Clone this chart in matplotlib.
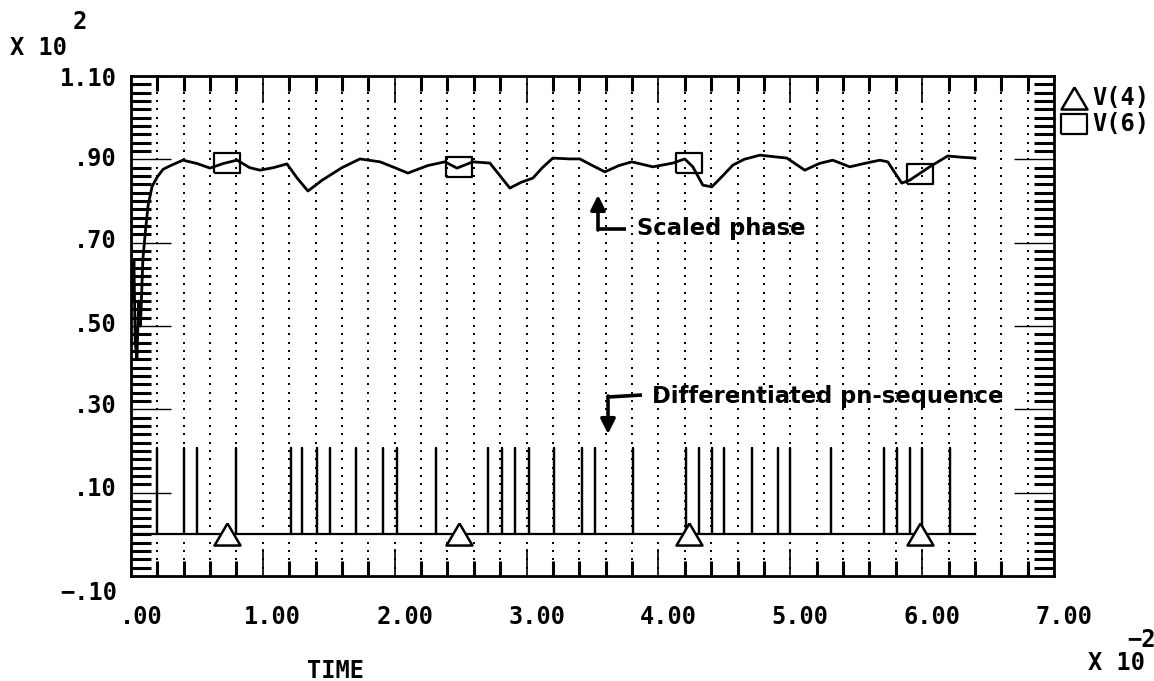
import numpy as np
import matplotlib
matplotlib.use("Agg")
import matplotlib.pyplot as plt
from matplotlib.lines import Line2D
from matplotlib.path import Path
from matplotlib.transforms import ScaledTranslation

# ---- data (time in units of 1e-2 s, voltages in units of 1e2) ----
# V(6): scaled phase
phase_t = [0.000, 0.012, 0.022, 0.032, 0.045, 0.058, 0.072, 0.090, 0.110, 0.130,
           0.160, 0.200, 0.243, 0.300, 0.394, 0.500, 0.599, 0.700, 0.804, 0.900,
           0.978, 1.080, 1.183, 1.260, 1.342, 1.450, 1.600, 1.736, 1.888, 2.000,
           2.100, 2.250, 2.381, 2.472, 2.593, 2.722, 2.800, 2.873, 2.960, 3.048,
           3.120, 3.199, 3.328, 3.404, 3.500, 3.594, 3.700, 3.798, 3.958, 4.109,
           4.200, 4.261, 4.337, 4.405, 4.480, 4.564, 4.650, 4.769, 4.974, 5.110,
           5.220, 5.322, 5.451, 5.560, 5.679, 5.739, 5.845, 5.906, 6.000, 6.057,
           6.194, 6.300, 6.400]
phase_v = [0.690, 0.560, 0.660, 0.460, 0.420, 0.560, 0.500, 0.660, 0.730, 0.790,
           0.835, 0.858, 0.876, 0.885, 0.898, 0.890, 0.879, 0.890, 0.898, 0.880,
           0.874, 0.880, 0.889, 0.855, 0.824, 0.850, 0.880, 0.901, 0.894, 0.880,
           0.867, 0.885, 0.894, 0.879, 0.894, 0.891, 0.860, 0.831, 0.845, 0.855,
           0.880, 0.903, 0.901, 0.901, 0.885, 0.870, 0.885, 0.894, 0.882, 0.891,
           0.901, 0.882, 0.838, 0.834, 0.858, 0.886, 0.900, 0.910, 0.903, 0.874,
           0.890, 0.898, 0.882, 0.890, 0.898, 0.894, 0.843, 0.850, 0.870, 0.882,
           0.908, 0.905, 0.903]

# V(4): differentiated pn-sequence (pulse instants and pulse height)
pulse_times = [0.20, 0.40, 0.50, 0.80, 1.21, 1.30, 1.41, 1.51, 1.71, 1.91, 2.02,
               2.31, 2.71, 2.81, 2.91, 3.02, 3.21, 3.42, 3.52, 3.81, 4.21, 4.31,
               4.41, 4.50, 4.71, 4.91, 5.00, 5.31, 5.71, 5.81, 5.91, 6.00, 6.21]
pulse_height = 0.207
sim_end = 6.40

# symbol positions along the traces
marker_times = [0.73, 2.49, 4.23, 5.98]

x_ticks = [0, 1, 2, 3, 4, 5, 6, 7]
x_labels = [".00", "1.00", "2.00", "3.00", "4.00", "5.00", "6.00", "7.00"]
y_ticks = [-0.10, 0.10, 0.30, 0.50, 0.70, 0.90, 1.10]
y_labels = ["\u2212.10", ".10", ".30", ".50", ".70", ".90", "1.10"]

# ---- figure ----
W, H = 1154, 681
fig = plt.figure(figsize=(W / 100, H / 100), dpi=100)
fig.patch.set_facecolor("white")


def fx(px):
    return px / W


def fy(py):
    return 1 - py / H


ax = fig.add_axes([fx(131), fy(576), (1054 - 131) / W, (576 - 76) / H])
ax.set_xlim(0, 7)
ax.set_ylim(-0.10, 1.10)

mono = dict(family="DejaVu Sans Mono", weight="bold", size=17)

# dotted grid: dots at each minor x position / minor y step
gx = np.arange(1, 35) * 0.2
gy = -0.10 + np.arange(1, 60) * 0.02
GX, GY = np.meshgrid(gx, gy)
ax.scatter(GX.ravel(), GY.ravel(), s=2.8, marker="s", color="black",
           linewidths=0, zorder=1)

# ticks
ax.set_xticks(x_ticks)
ax.set_xticklabels(x_labels, fontdict=mono)
ax.set_xticks(np.arange(0, 36) * 0.2, minor=True)
ax.set_yticks(y_ticks)
ax.set_yticklabels(y_labels, fontdict=mono)
ax.set_yticks(-0.10 + np.arange(0, 61) * 0.02, minor=True)

ax.tick_params(axis="x", which="major", direction="in", length=19.5, width=1.2,
               top=True, bottom=True, pad=21)
ax.tick_params(axis="x", which="minor", direction="in", length=11, width=2.2,
               top=True, bottom=True)
ax.tick_params(axis="y", which="major", direction="in", length=29, width=1.0,
               left=True, right=True, pad=10)
ax.tick_params(axis="y", which="minor", direction="in", length=14.5, width=2.2,
               left=True, right=True)

# character-cell placement of the tick labels
xshift = ScaledTranslation(10 / 100, 0, fig.dpi_scale_trans)
for lab in ax.get_xticklabels():
    lab.set_transform(lab.get_transform() + xshift)
y_offsets_px = [-14, 6, 6, 4, 4, 3, 0]
for lab, dy in zip(ax.get_yticklabels(), y_offsets_px):
    lab.set_transform(lab.get_transform()
                      + ScaledTranslation(0, dy / 100, fig.dpi_scale_trans))

for sp in ax.spines.values():
    sp.set_linewidth(2.0)

# V(6) trace
ax.plot(phase_t, phase_v, color="black", lw=2.0, zorder=3)

# V(4) trace: flat line with narrow pulses
seq_t = [0.0]
seq_v = [0.0]
for p in pulse_times:
    seq_t += [p, p, p]
    seq_v += [0.0, pulse_height, 0.0]
seq_t.append(sim_end)
seq_v.append(0.0)
ax.plot(seq_t, seq_v, color="black", lw=1.6, zorder=3)

# trace symbols
tri = Path([(0, 0.85), (-1, -0.85), (1, -0.85), (0, 0.85)])
rect = Path([(-1.3, -1), (1.3, -1), (1.3, 1), (-1.3, 1), (-1.3, -1)])
mt = np.array(marker_times)
ax.plot(mt, np.zeros_like(mt), ls="none", marker=tri, ms=18.7, mfc="white",
        mec="black", mew=1.8, zorder=4)
ax.plot(mt, np.interp(mt, phase_t, phase_v), ls="none", marker=rect, ms=18.7,
        mfc="none", mec="black", mew=1.6, zorder=4)

# legend at the right of the frame
fig.add_artist(Line2D([fx(1074)], [fy(98)], ls="none", marker=tri, ms=18.7,
                      mfc="none", mec="black", mew=1.8))
fig.add_artist(Line2D([fx(1074)], [fy(124)], ls="none", marker=rect, ms=18.7,
                      mfc="none", mec="black", mew=1.6))
fig.text(fx(1092), fy(98), "V(4)", va="center", ha="left", **mono)
fig.text(fx(1092), fy(124), "V(6)", va="center", ha="left", **mono)

# scale factors
fig.text(fx(10), fy(48), "X 10", va="center", ha="left", **mono)
fig.text(fx(80), fy(22), "2", va="center", ha="center", **mono)
fig.text(fx(1127), fy(640), "\u22122", va="center", ha="left", **mono)
fig.text(fx(1088), fy(663), "X 10", va="center", ha="left", **mono)
fig.text(fx(336), fy(671), "TIME", va="center", ha="center", **mono)

# annotations
note = dict(family="DejaVu Sans", weight="bold", size=16.3)
arrow = dict(arrowstyle="-|>", lw=2.6, color="black", mutation_scale=22,
             shrinkA=0, shrinkB=0)

fig.add_artist(Line2D([fx(626), fx(598)], [fy(229), fy(229)], color="black",
                      lw=2.6, solid_capstyle="butt"))
ax.annotate("", xy=(fx(598), fy(195)), xytext=(fx(598), fy(230)),
            xycoords="figure fraction", textcoords="figure fraction",
            arrowprops=arrow)
fig.text(fx(637), fy(229), "Scaled phase", va="center", ha="left", **note)

fig.add_artist(Line2D([fx(642), fx(608)], [fy(395), fy(397)], color="black",
                      lw=2.6, solid_capstyle="butt"))
ax.annotate("", xy=(fx(608), fy(434)), xytext=(fx(608), fy(396)),
            xycoords="figure fraction", textcoords="figure fraction",
            arrowprops=arrow)
fig.text(fx(652), fy(397), "Differentiated pn-sequence", va="center",
         ha="left", **note)

fig.savefig("out.png", dpi=100, facecolor="white")
